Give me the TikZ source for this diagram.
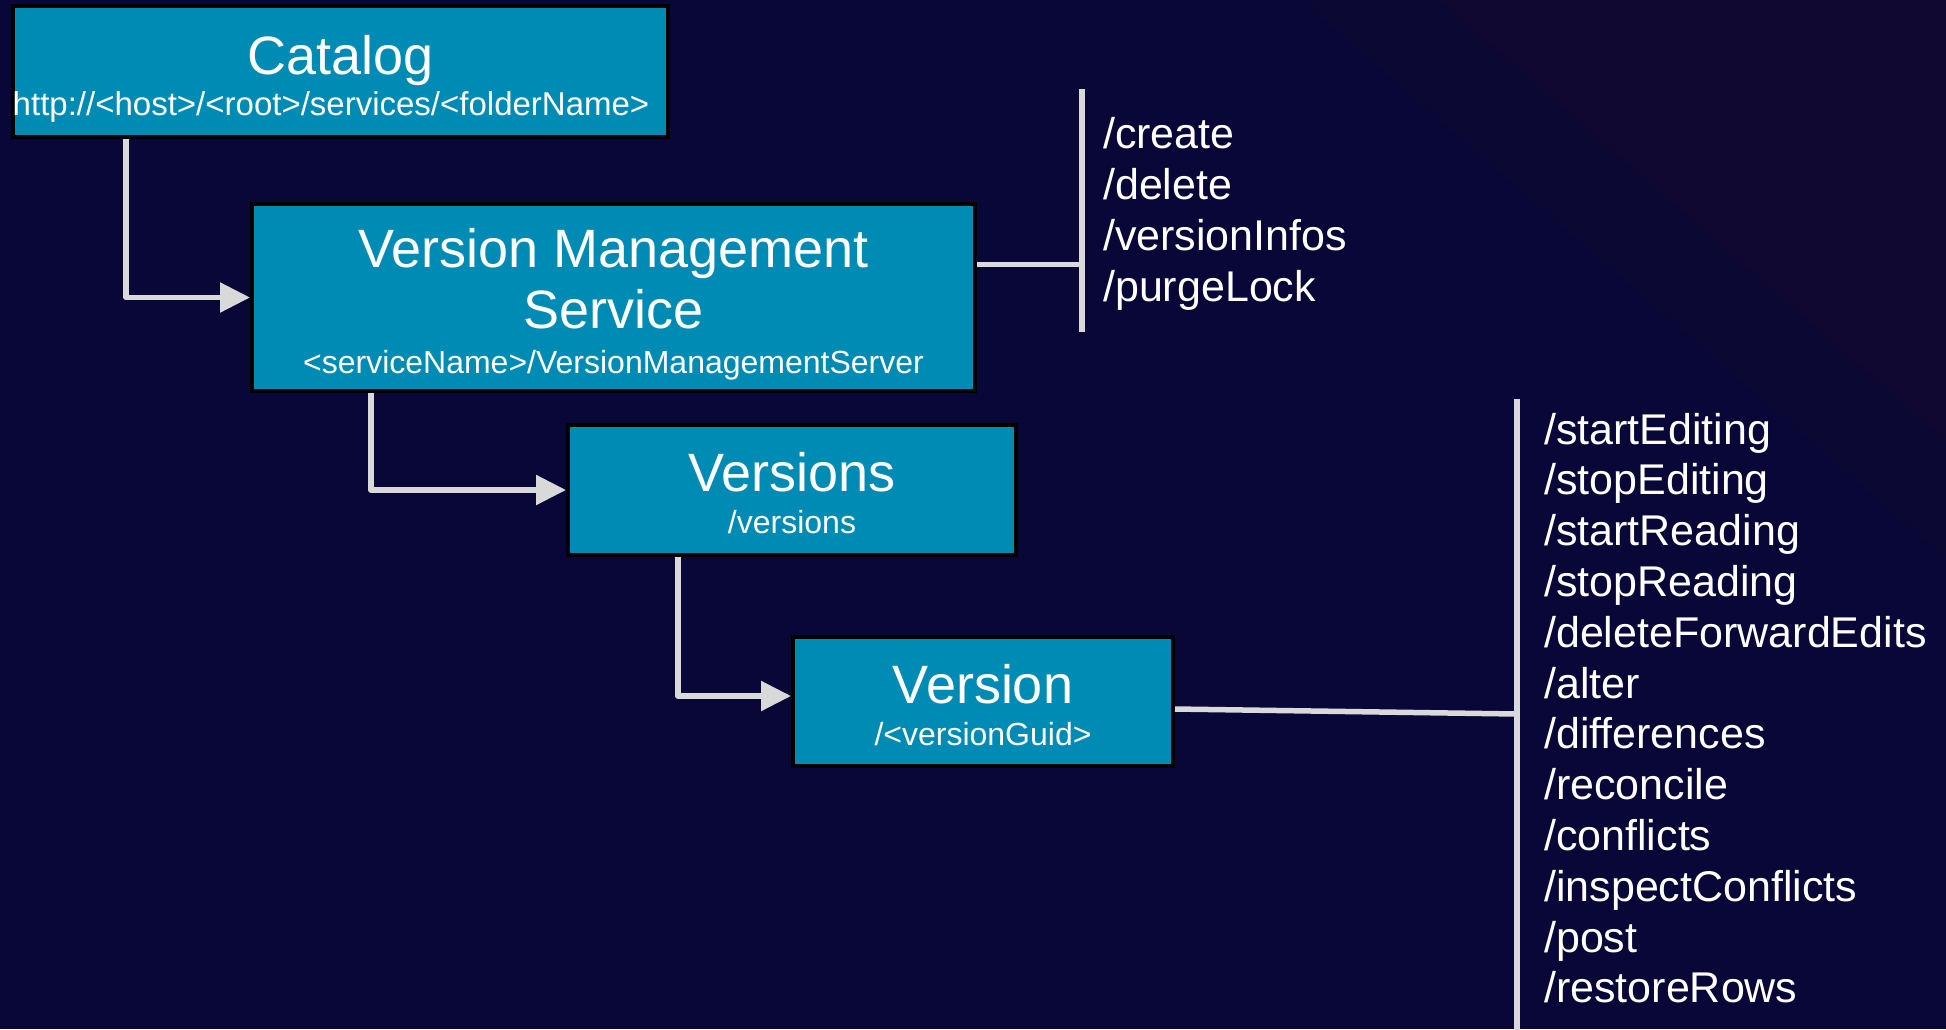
\documentclass[tikz,border=0pt]{standalone}
\usepackage{fontspec}
\setmainfont{Liberation Sans}
\usetikzlibrary{arrows.meta}
\definecolor{bgc}{RGB}{8,7,56}
\definecolor{bgm}{RGB}{12,8,52}
\definecolor{bgp}{RGB}{16,8,48}
\definecolor{boxc}{RGB}{0,139,180}
\definecolor{linec}{RGB}{217,217,217}
\begin{document}
\begin{tikzpicture}[x=1pt,y=-1pt,
  box/.style={draw=black, line width=4pt, fill=boxc, inner sep=0pt},
  ttl/.style={text=white, inner sep=0pt, anchor=base, font=\fontsize{54}{60}\selectfont},
  sub/.style={text=white, inner sep=0pt, anchor=base, font=\fontsize{32}{36}\selectfont},
  item/.style={text=white, inner sep=0pt, anchor=base west, font=\fontsize{43}{50}\selectfont},
  conn/.style={draw=linec, line width=5.5pt, line join=round, -{Triangle[length=30pt,width=29pt]}},
  brk/.style={draw=linec, line width=5.5pt}]
\useasboundingbox (0,0) rectangle (1946,1029);
\fill[bgc] (0,0) rectangle (1946,1029);
\fill[bgm] (1300,0) -- (1946,0) -- (1946,560) -- cycle;
\fill[bgp] (1440,0) -- (1946,0) -- (1946,440) -- cycle;

% boxes
\node[box, minimum width=655pt, minimum height=131pt] (cat) at (340.5,71.5) {};
\node[box, minimum width=723pt, minimum height=187pt] (vms) at (613.5,297.5) {};
\node[box, minimum width=448pt, minimum height=130pt] (vers) at (792,490) {};
\node[box, minimum width=380pt, minimum height=129pt] (vsn) at (983,701.5) {};

% texts in boxes
\node[ttl] (catT) at (340.5,74) {Catalog};
\node[sub, font=\fontsize{33}{36}\selectfont] (catS) at (331,115) {http://<host>/<root>/services/<folderName>};
\node[ttl] (vmsT1) at (613.5,267) {Version Management};
\node[ttl] (vmsT2) at (613.5,328) {Service};
\node[sub] (vmsS) at (613.5,373) {<serviceName>/VersionManagementServer};
\node[ttl] (versT) at (792,491) {Versions};
\node[sub] (versS) at (792,533) {/versions};
\node[ttl] (vsnT) at (983,703) {Version};
\node[sub] (vsnS) at (983,745) {/<versionGuid>};

% connectors
\draw[conn] ([xshift=115pt]cat.south west) |- (vms.west);
\draw[conn] ([xshift=121pt]vms.south west) |- (vers.west);
\draw[conn] ([xshift=112pt]vers.south west) |- ([yshift=5.5pt]vsn.west);

% bracket 1
\coordinate (b1top) at (1082,89);
\coordinate (b1bot) at (1082,332);
\draw[brk] (b1top) -- (b1bot);
\draw[brk] ([yshift=33pt]vms.east) -- ([yshift=33pt]vms.east -| b1top);
\foreach \t [count=\i] in {/create,/delete,/versionInfos,/purgeLock}
  \node[item] (m\i) at (1103,{148+51.3*(\i-1)}) {\t};

% bracket 2
\coordinate (b2top) at (1517,399);
\coordinate (b2bot) at (1517,1035);
\coordinate (b2mid) at (1517,714);
\draw[brk] (b2top) -- (b2bot);
\draw[brk] ([yshift=-7.5pt]vsn.east) -- (b2mid);
\foreach \t [count=\i] in {/startEditing,/stopEditing,/startReading,/stopReading,/deleteForwardEdits,/alter,/differences,/reconcile,/conflicts,/inspectConflicts,/post,/restoreRows}
  \node[item] (v\i) at (1544,{444+50.8*(\i-1)}) {\t};
\end{tikzpicture}
\end{document}
